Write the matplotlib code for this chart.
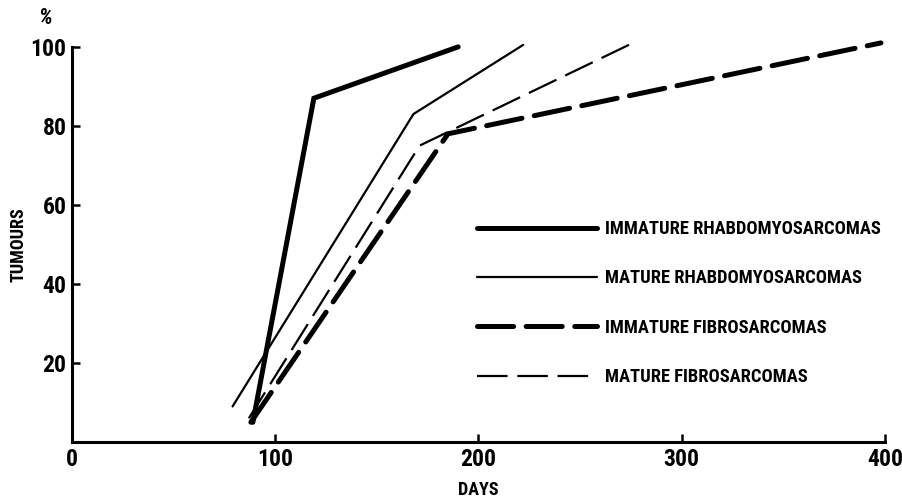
import matplotlib
matplotlib.use("Agg")
from matplotlib import pyplot as plt

plt.rcParams["font.family"] = ["Roboto Condensed", "Archivo Narrow", "Cabin Condensed", "DejaVu Sans"]
plt.rcParams["font.weight"] = "bold"
plt.rcParams["axes.labelweight"] = "bold"
plt.rcParams["lines.scale_dashes"] = False

# days after implantation vs cumulative % of tumours
imm_rhabdo_days = [89, 119, 190]
imm_rhabdo_pct = [5, 87, 100]

mat_rhabdo_days = [79, 168, 222]
mat_rhabdo_pct = [9, 83, 100.5]

imm_fibro_days = [88, 185, 398]
imm_fibro_pct = [5, 78, 101]

mat_fibro_days = [87, 171, 276]
mat_fibro_pct = [6, 75, 101]

labels = ["IMMATURE RHABDOMYOSARCOMAS", "MATURE RHABDOMYOSARCOMAS",
          "IMMATURE FIBROSARCOMAS", "MATURE FIBROSARCOMAS"]

x_ticks = [0, 100, 200, 300, 400]
y_ticks = [20, 40, 60, 80, 100]

fig = plt.figure(figsize=(9.03, 5.01), dpi=100)
ax = fig.add_axes([72 / 903, 59 / 501, 813 / 903, 407 / 501])

ax.plot(imm_rhabdo_days, imm_rhabdo_pct, color="black", lw=3.6,
        solid_capstyle="round", solid_joinstyle="miter", label=labels[0])
ax.plot(mat_rhabdo_days, mat_rhabdo_pct, color="black", lw=1.6,
        solid_capstyle="round", label=labels[1])
ax.plot(imm_fibro_days, imm_fibro_pct, color="black", lw=3.6,
        dashes=(26, 9), dash_capstyle="round", label=labels[2])
ax.plot(mat_fibro_days, mat_fibro_pct, color="black", lw=1.6,
        dashes=(22, 7), dash_capstyle="butt", label=labels[3])

ax.set_xlim(0, 400)
ax.set_ylim(0, 103)
ax.spines["left"].set_bounds(0, 100)
ax.spines["top"].set_visible(False)
ax.spines["right"].set_visible(False)
for s in ("left", "bottom"):
    ax.spines[s].set_linewidth(2.2)

ax.set_xticks(x_ticks)
ax.set_yticks(y_ticks)
ax.tick_params(direction="in", length=6, width=1.8, labelsize=17)
ax.tick_params(axis="x", pad=4)
ax.tick_params(axis="y", pad=4)

ax.set_xlabel("DAYS", fontsize=13, va="center")
ax.xaxis.set_label_coords(0.4994, -0.118)
ax.set_ylabel("TUMOURS", fontsize=13, va="center")
ax.yaxis.set_label_coords(-0.066, 0.484)
ax.text(-0.033, 1.042, "%", transform=ax.transAxes, fontsize=16,
        ha="center", va="center", style="italic")

ax.legend(loc="upper left", bbox_to_anchor=(477 / 903, 1 - 220 / 501),
          bbox_transform=fig.transFigure, frameon=False, fontsize=13.3,
          handlelength=6.5, handletextpad=0.45, labelspacing=1.7,
          borderpad=0, borderaxespad=0)

fig.savefig("out.png", dpi=100)
